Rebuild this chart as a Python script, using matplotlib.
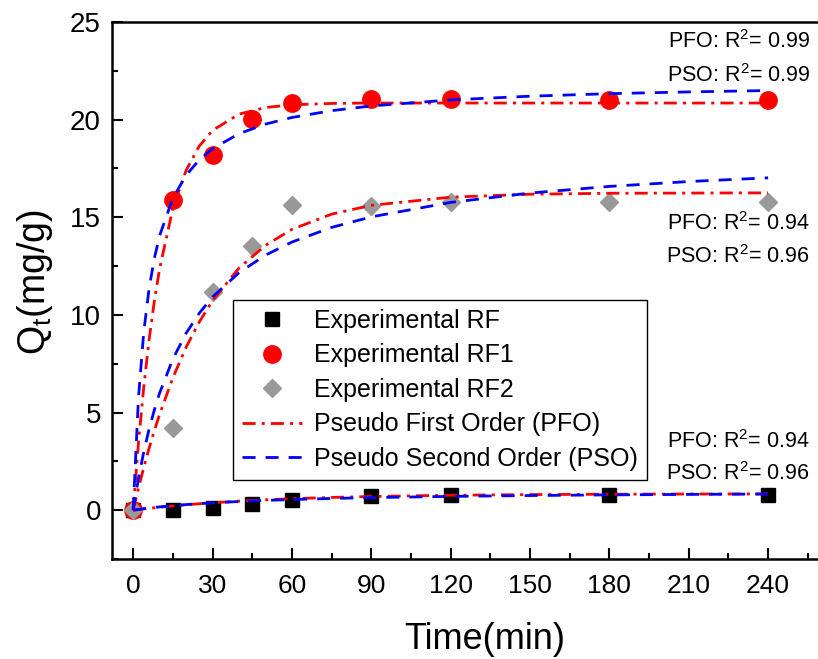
import matplotlib
matplotlib.use("Agg")
import matplotlib.pyplot as plt
from matplotlib.lines import Line2D
from matplotlib.ticker import MultipleLocator

plt.rcParams["font.family"] = ["Liberation Sans", "DejaVu Sans"]
plt.rcParams["mathtext.fontset"] = "custom"
plt.rcParams["mathtext.rm"] = "Liberation Sans"
plt.rcParams["mathtext.it"] = "Liberation Sans:italic"

# measured uptake (mg/g) at each contact time (min)
time_exp = [0, 15, 30, 45, 60, 90, 120, 180, 240]
q_rf = [0.0, 0.02, 0.12, 0.32, 0.52, 0.75, 0.8, 0.8, 0.78]
q_rf1 = [0.0, 15.9, 18.2, 20.05, 20.85, 21.05, 21.05, 21.0, 21.0]
q_rf2 = [0.0, 4.2, 11.15, 13.55, 15.65, 15.6, 15.8, 15.8, 15.8]

# kinetic model curves sampled along the time axis
time_fit = [0, 2, 4, 6, 8, 10, 15, 20, 25, 30, 40, 50, 60, 75, 90, 120, 150, 180, 210, 240]
pfo_rf = [0.0, 0.033, 0.065, 0.095, 0.124, 0.152, 0.218, 0.277, 0.330, 0.379,
          0.463, 0.531, 0.587, 0.653, 0.701, 0.764, 0.798, 0.817, 0.828, 0.833]
pso_rf = [0.0, 0.038, 0.074, 0.107, 0.138, 0.167, 0.231, 0.286, 0.333, 0.375,
          0.444, 0.500, 0.545, 0.600, 0.643, 0.706, 0.750, 0.783, 0.808, 0.828]
pfo_rf1 = [0.0, 3.43, 6.30, 8.70, 10.70, 12.37, 15.45, 17.40, 18.65, 19.45,
           20.28, 20.62, 20.76, 20.83, 20.85, 20.85, 20.85, 20.85, 20.85, 20.85]
pso_rf1 = [0.0, 5.75, 9.12, 11.33, 12.89, 14.06, 15.98, 17.15, 17.94, 18.51,
           19.28, 19.77, 20.11, 20.46, 20.70, 21.01, 21.20, 21.33, 21.42, 21.49]
pfo_rf2 = [0.0, 1.13, 2.18, 3.16, 4.07, 4.91, 6.78, 8.34, 9.64, 10.73,
           12.40, 13.56, 14.38, 15.16, 15.61, 16.03, 16.18, 16.23, 16.24, 16.25]
pso_rf2 = [0.0, 1.62, 2.98, 4.14, 5.13, 6.00, 7.74, 9.06, 10.09, 10.92,
           12.16, 13.06, 13.73, 14.48, 15.02, 15.76, 16.24, 16.58, 16.83, 17.02]

r2_labels = [("0.99", "0.99"), ("0.94", "0.96"), ("0.94", "0.96")]

GRAY = "#999999"
PFO_STYLE = dict(color="red", lw=2.0, dashes=(4.7, 2.2, 1.1, 2.2))
PSO_STYLE = dict(color="blue", lw=2.0, dashes=(4.7, 3.6))

fig = plt.figure(figsize=(8.18, 6.59), dpi=100)
ax = fig.add_axes([112 / 818, 100 / 659, 709 / 818, 537 / 659])

ax.plot(time_exp, q_rf, "s", color="black", ms=9.4, zorder=2)
ax.plot(time_exp, q_rf1, "o", color="red", ms=12.5, zorder=2)
ax.plot(time_exp, q_rf2, "D", color=GRAY, ms=9.5, zorder=2)

for pfo, pso in [(pfo_rf, pso_rf), (pfo_rf1, pso_rf1), (pfo_rf2, pso_rf2)]:
    ax.plot(time_fit, pfo, zorder=3, **PFO_STYLE)
    ax.plot(time_fit, pso, zorder=3, **PSO_STYLE)

ax.set_xlim(-8, 260)
ax.set_ylim(-2.5, 25)
ax.xaxis.set_major_locator(MultipleLocator(30))
ax.xaxis.set_minor_locator(MultipleLocator(15))
ax.yaxis.set_major_locator(MultipleLocator(5))
ax.yaxis.set_minor_locator(MultipleLocator(2.5))
ax.tick_params(which="both", direction="in", width=1.5, top=False, right=False)
ax.tick_params(which="major", length=8)
ax.tick_params(which="minor", length=4)
ax.tick_params(axis="y", labelsize=20, pad=8)
ax.tick_params(axis="x", labelsize=19, pad=11)
for sp in ax.spines.values():
    sp.set_linewidth(1.8)

ax.set_ylabel(r"$\mathregular{Q_t}$(mg/g)", fontsize=27)
ax.yaxis.set_label_coords(-0.08, 0.515)
ax.set_xlabel("Time(min)", fontsize=26)
ax.xaxis.set_label_coords(0.526, -0.118)
ax.xaxis.label.set_va("top")

# R-squared of each model fit, stacked to the right of each series
baselines = [(48, 82), (230, 263), (448, 480)]
for (pfo_r2, pso_r2), (y1, y2) in zip(r2_labels, baselines):
    ax.text((810 - 112) / 709, (559 - y1) / 537, r"PFO: R$\mathregular{^2}$= " + pfo_r2,
            transform=ax.transAxes, ha="right", va="baseline", fontsize=15.5)
    ax.text((810 - 112) / 709, (559 - y2) / 537, r"PSO: R$\mathregular{^2}$= " + pso_r2,
            transform=ax.transAxes, ha="right", va="baseline", fontsize=15.5)

handles = [
    Line2D([], [], ls="none", marker="s", color="black", ms=9.4),
    Line2D([], [], ls="none", marker="o", color="red", ms=12.5),
    Line2D([], [], ls="none", marker="D", color=GRAY, ms=9.5),
    Line2D([], [], **PFO_STYLE),
    Line2D([], [], **PSO_STYLE),
]
labels = ["Experimental RF", "Experimental RF1", "Experimental RF2",
          "Pseudo First Order (PFO)", "Pseudo Second Order (PSO)"]
leg = ax.legend(handles, labels, loc="upper left", bbox_to_anchor=(0.1707, 0.4823),
                borderaxespad=0, fontsize=18, frameon=True, fancybox=False,
                framealpha=1, edgecolor="black", handlelength=2.4, handletextpad=0.5,
                labelspacing=0.42, borderpad=0.35)
leg.get_frame().set_linewidth(1.0)

fig.savefig("out.png", dpi=100)
